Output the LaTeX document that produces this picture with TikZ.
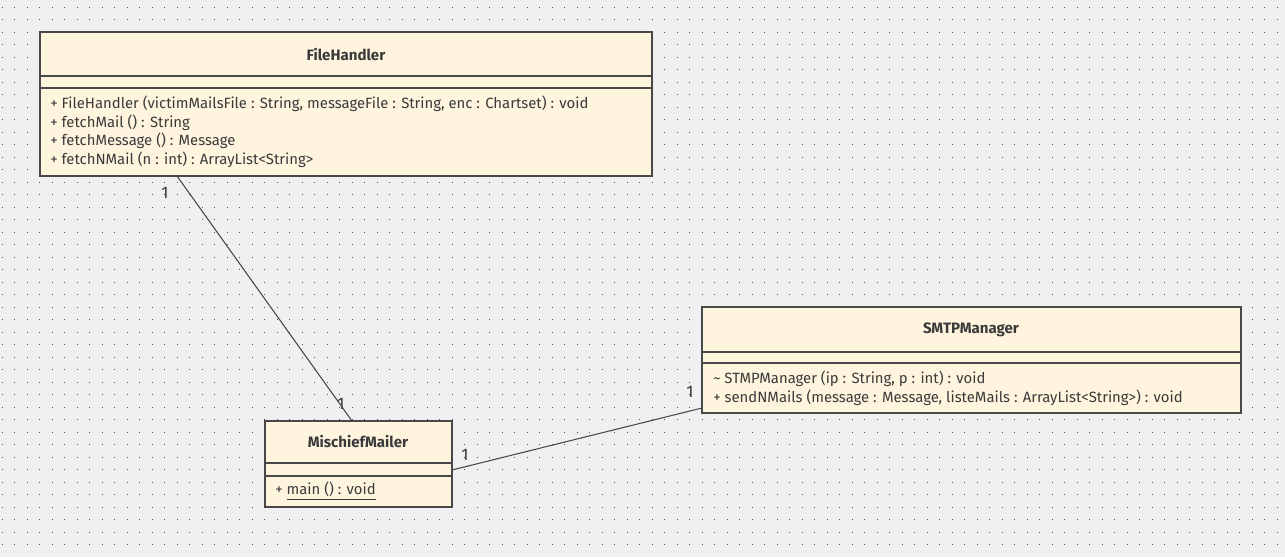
\documentclass[tikz,border=0pt]{standalone}
\usepackage{fontspec}
\setmainfont{Fira Sans}
\usetikzlibrary{calc}
\definecolor{bgc}{HTML}{F0F0F2}
\definecolor{dotc}{HTML}{505050}
\definecolor{boxfill}{HTML}{FFF5DF}
\definecolor{edge}{HTML}{484848}
\definecolor{txt}{HTML}{3A3A3A}
\tikzset{
  classbox/.style={draw=edge, fill=boxfill, line width=1.1pt, inner sep=0pt, outer sep=0pt, anchor=north west},
  sepline/.style={draw=edge, line width=1.1pt},
  title/.style={text=txt, font=\fontsize{11.3}{13}\selectfont\bfseries, inner sep=0pt},
  member/.style={text=txt, font=\fontsize{11.15}{13}\selectfont, inner sep=0pt, anchor=west},
  mult/.style={text=txt, font=\fontsize{12.5}{14}\selectfont, inner sep=0pt},
  assoc/.style={draw=edge, line width=0.8pt}
}
\begin{document}
\begin{tikzpicture}[x=0.75pt,y=-0.75pt]
\fill[bgc] (0,0) rectangle (1285,557);
\useasboundingbox (0,0) rectangle (1285,557);
\foreach \i in {0,...,102}{
  \foreach \j in {0,...,43}{
    \fill[dotc] ({1.5+12.5*\i},{6.5+12.5*\j}) rectangle +(1.3,1.3);
  }
}
% FileHandler
\node[classbox, minimum width=459pt, minimum height=108pt] (fh) at (40,32) {};
\draw[sepline] (40,76) -- (652,76);
\draw[sepline] (40,88) -- (652,88);
\node[title] (fht) at (346,55) {FileHandler};
\node[member] (fh1) at (50,104) {+ FileHandler (victimMailsFile : String, messageFile : String, enc : Chartset) : void};
\node[member] (fh2) at (50,123) {+ fetchMail () : String};
\node[member] (fh3) at (50,141) {+ fetchMessage () : Message};
\node[member] (fh4) at (50,160) {+ fetchNMail (n : int) : ArrayList<String>};
% SMTPManager
\node[classbox, minimum width=404.25pt, minimum height=79.5pt] (sm) at (702,307) {};
\draw[sepline] (702,352) -- (1241,352);
\draw[sepline] (702,363) -- (1241,363);
\node[title] (smt) at (971,330) {SMTPManager};
\node[member] (sm1) at (713,379) {\textasciitilde\ STMPManager (ip : String, p : int) : void};
\node[member] (sm2) at (713,398) {+ sendNMails (message : Message, listeMails : ArrayList<String>) : void};
% MischiefMailer
\node[classbox, minimum width=140.25pt, minimum height=64.5pt] (mm) at (265,421) {};
\draw[sepline] (265,463) -- (452,463);
\draw[sepline] (265,476) -- (452,476);
\node[title] (mmt) at (358,442) {MischiefMailer};
\node[member] (mm1) at (275,491) {+ \underline{main () : void}};
% associations
\draw[assoc] ($(fh.south west)+(137,0)$) -- ($(mm.north west)+(87,0)$);
\draw[assoc] ($(mm.north east)+(0,49)$) -- ($(sm.south west)+(0,-5)$);
\node[mult] (m1) at (165,193) {1};
\node[mult] (m2) at (341,404) {1};
\node[mult] (m3) at (465,455) {1};
\node[mult] (m4) at (690,392) {1};
\end{tikzpicture}
\end{document}
